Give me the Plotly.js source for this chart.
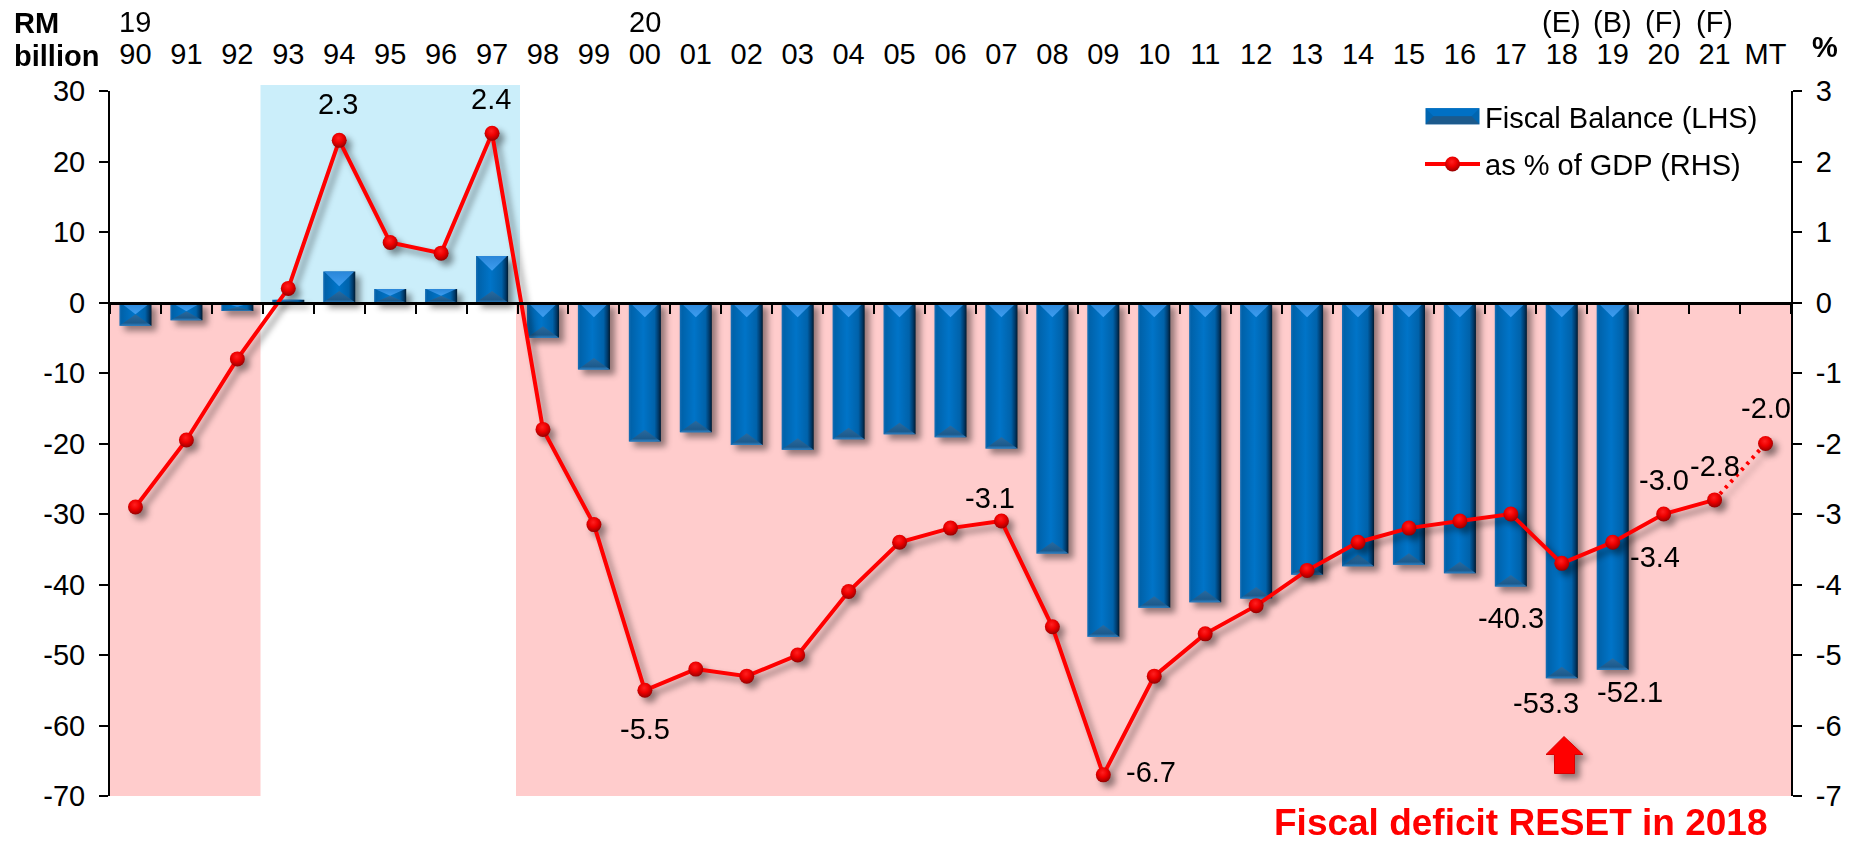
<!DOCTYPE html>
<html>
<head>
<meta charset="utf-8">
<title>Malaysia fiscal balance</title>
<script src="https://cdn.plot.ly/plotly-3.0.1.min.js"></script>
<style>
  html, body { margin: 0; padding: 0; background: #fff; }
  #chart { width: 1851px; height: 844px; }
</style>
</head>
<body>
<div id="chart"></div>
<script>
// Federal government fiscal balance, RM billion and share of GDP
const periods = ['90','91','92','93','94','95','96','97','98','99','00','01','02','03','04','05','06','07','08','09','10','11','12','13','14','15','16','17','18','19','20','21','MT'];
const upperRow = {'90':'19','00':'20','18':'(E)','19':'(B)','20':'(F)','21':'(F)'};

const balancePeriods = periods.slice(0, 30);
const balanceValues = [-3.3,-2.5,-1.2,0.4,4.4,1.9,1.9,6.6,-5.0,-9.5,-19.7,-18.4,-20.2,-20.9,-19.4,-18.7,-19.1,-20.7,-35.6,-47.4,-43.3,-42.5,-42.0,-38.6,-37.4,-37.2,-38.4,-40.3,-53.3,-52.1];

const gdpPeriods = periods.slice(0, 32);
const gdpValues = [-2.9,-1.95,-0.8,0.2,2.3,0.85,0.7,2.4,-1.8,-3.15,-5.5,-5.2,-5.3,-5.0,-4.1,-3.4,-3.2,-3.1,-4.6,-6.7,-5.3,-4.7,-4.3,-3.8,-3.4,-3.2,-3.1,-3.0,-3.7,-3.4,-3.0,-2.8];
const targetPeriods = ['21','MT'];
const targetValues = [-2.8,-2.0];

const leftTicks = [30,20,10,0,-10,-20,-30,-40,-50,-60,-70];
const leftTickText = ['30','20','10','0','-10','-20','-30','-40','-50','-60','-70'];
const rightTicks = [3,2,1,0,-1,-2,-3,-4,-5,-6,-7];
const rightTickText = ['3','2','1','0','-1','-2','-3','-4','-5','-6','-7'];

// Labels placed beside their marks: [period, text, dx, dy]
const gdpLabels = [['94','2.3',-1,-36],['97','2.4',-1,-34],['00','-5.5',0,39],['07','-3.1',-11,-23],['09','-6.7',48,-3],['19','-3.4',42,15],['20','-3.0',0,-34],['21','-2.8',0,-34],['MT','-2.0',0,-36]];
const balanceLabels = [['17','-40.3',0,31],['18','-53.3',-16,25],['19','-52.1',17,22]];

const FONT = 'Liberation Sans, Arial, sans-serif';
const SIZE = 29;
const PLOT = {left: 110, right: 1791, top: 91, bottom: 796.5, width: 1851, height: 844};
const pxX = x => (x - PLOT.left) / (PLOT.right - PLOT.left);
const pxY = y => (PLOT.bottom - y) / (PLOT.bottom - PLOT.top);
const gdpValue = p => p === 'MT' ? targetValues[1] : gdpValues[gdpPeriods.indexOf(p)];
const balanceValue = p => balanceValues[balancePeriods.indexOf(p)];

const textNote = (extra) => Object.assign({showarrow: false, font: {family: FONT, size: SIZE, color: '#000'}}, extra);

const annotations = [
  textNote({xref:'paper', yref:'paper', x:pxX(12), y:pxY(23), xanchor:'left', yanchor:'middle', text:'<b>RM</b>'}),
  textNote({xref:'paper', yref:'paper', x:pxX(12), y:pxY(56), xanchor:'left', yanchor:'middle', text:'<b>billion</b>'}),
  textNote({xref:'paper', yref:'paper', x:pxX(1825), y:pxY(47), xanchor:'center', yanchor:'middle', text:'<b>%</b>'}),
  textNote({xref:'paper', yref:'paper', x:pxX(1770), y:pxY(823), xanchor:'right', yanchor:'middle', text:'<b>Fiscal deficit RESET in 2018</b>', font:{family:FONT, size:37, color:'#ff0000'}})
];
Object.keys(upperRow).forEach(p => annotations.push(textNote({
  xref:'x', yref:'paper', x:periods.indexOf(p), y:pxY(22), xanchor:'center', yanchor:'middle', text:upperRow[p]
})));
gdpLabels.forEach(([p, text, dx, dy]) => annotations.push(textNote({
  xref:'x', yref:'y2', x:periods.indexOf(p), y:gdpValue(p), xanchor:'center', yanchor:'middle', xshift:dx, yshift:-dy, text
})));
balanceLabels.forEach(([p, text, dx, dy]) => annotations.push(textNote({
  xref:'x', yref:'y', x:periods.indexOf(p), y:balanceValue(p), xanchor:'center', yanchor:'middle', xshift:dx, yshift:-dy, text
})));

// Background bands: deficit years in pink, surplus years in pale blue above zero
const band = (x0, x1, y0, y1, color) => ({type:'rect', layer:'below', xref:'paper', yref:'paper',
  x0:pxX(x0), x1:pxX(x1), y0:pxY(y0), y1:pxY(y1), fillcolor:color, line:{width:0}});
const arrowPath = [[1564,737],[1583,755],[1574.5,755],[1574.5,774],[1554.5,774],[1554.5,755],[1546,755]]
  .map((pt, i) => (i ? 'L' : 'M') + pxX(pt[0]) + ',' + pxY(pt[1])).join(' ') + ' Z';
const shapes = [
  band(110, 260.5, 302.6, 796.5, '#ffcccc'),
  band(516, 1791, 302.6, 796.5, '#ffcccc'),
  band(260.5, 520, 85, 302.6, '#cbeefa'),
  {type:'path', layer:'above', xref:'paper', yref:'paper', path:arrowPath, fillcolor:'#ff0000', line:{color:'#d80000', width:1}}
];

const lineStyle = {color:'#ff0000', width:4};
const markerStyle = {size:15, color:'#e00000', line:{width:0}};
const traces = [
  {type:'bar', name:'Fiscal Balance (LHS)', x:balancePeriods, y:balanceValues, xaxis:'x', yaxis:'y',
   width:0.63, marker:{color:'#0070c0', line:{width:0}}, legendgroup:'balance', cliponaxis:false},
  {type:'scatter', mode:'lines', name:'2021 to medium term', x:targetPeriods, y:targetValues, xaxis:'x', yaxis:'y2',
   line:{color:'#ff0000', width:4, dash:'3px,5px'}, showlegend:false, cliponaxis:false},
  {type:'scatter', mode:'markers', name:'Medium term', x:targetPeriods.slice(1), y:targetValues.slice(1), xaxis:'x', yaxis:'y2',
   marker:markerStyle, showlegend:false, cliponaxis:false},
  {type:'scatter', mode:'lines+markers', name:'as % of GDP (RHS)', x:gdpPeriods, y:gdpValues, xaxis:'x', yaxis:'y2',
   line:lineStyle, marker:markerStyle, legendgroup:'gdp', cliponaxis:false},
  // Invisible companion that keeps the top axis active
  {type:'scatter', mode:'markers', x:periods, y:periods.map(() => 0), xaxis:'x2', yaxis:'y', marker:{opacity:0}, showlegend:false, hoverinfo:'skip'}
];

const tickFont = {family:FONT, size:SIZE, color:'#000'};
const layout = {
  width: PLOT.width, height: PLOT.height,
  margin: {l:PLOT.left, r:PLOT.width-PLOT.right, t:PLOT.top, b:PLOT.height-PLOT.bottom, pad:0},
  paper_bgcolor:'#ffffff', plot_bgcolor:'rgba(0,0,0,0)',
  font:{family:FONT, size:SIZE, color:'#000'},
  bargap:0.37, barmode:'overlay', hovermode:false,
  showlegend:true,
  legend:{x:pxX(1420), y:pxY(91), xanchor:'left', yanchor:'top', bgcolor:'rgba(0,0,0,0)',
    itemwidth:55, tracegroupgap:7, traceorder:'grouped', font:{family:FONT, size:SIZE}, itemclick:false, itemdoubleclick:false},
  // Baseline at zero carries the boundary ticks
  xaxis:{type:'category', categoryorder:'array', categoryarray:periods, range:[-0.5,32.5],
    anchor:'free', position:0.7, side:'bottom', showticklabels:false, showgrid:false, zeroline:false,
    showline:true, linecolor:'#000', linewidth:3, ticks:'outside', tickson:'boundaries', ticklen:9, tickwidth:2, tickcolor:'#000'},
  // Period labels run along the top of the chart
  xaxis2:{type:'category', categoryorder:'array', categoryarray:periods, range:[-0.5,32.5], overlaying:'x', anchor:'y', side:'top',
    tickmode:'array', tickvals:periods, ticktext:periods, ticks:'', showgrid:false, zeroline:false, showline:false,
    ticklabelstandoff:20, tickfont:tickFont, tickangle:0},
  yaxis:{range:[-70,30], tickmode:'array', tickvals:leftTicks, ticktext:leftTickText, side:'left', showgrid:false, zeroline:false, showline:true, linecolor:'#000', linewidth:2,
    ticks:'outside', ticklen:9, tickwidth:2, tickcolor:'#000', ticklabelstandoff:8, tickfont:tickFont},
  yaxis2:{range:[-7,3], tickmode:'array', tickvals:rightTicks, ticktext:rightTickText, side:'right', overlaying:'y', anchor:'x', showgrid:false, zeroline:false, showline:true, linecolor:'#000', linewidth:2,
    ticks:'outside', ticklen:9, tickwidth:2, tickcolor:'#000', ticklabelstandoff:8, tickfont:tickFont},
  shapes, annotations
};

const NS = 'http://www.w3.org/2000/svg';
function el(name, attrs, parent) {
  const n = document.createElementNS(NS, name);
  Object.keys(attrs).forEach(k => n.setAttribute(k, attrs[k]));
  if (parent) parent.appendChild(n);
  return n;
}
function linear(defs, id, x2, y2, stops) {
  const g = el('linearGradient', {id, x1:0, y1:0, x2, y2}, defs);
  stops.forEach(([o, c]) => el('stop', {offset:o, 'stop-color':c}, g));
}

// Gives the bars a bevelled look and the markers a glossy one
function addFinish(gd) {
  const svg = gd.querySelector('.main-svg');
  const defs = el('defs', {}, svg);
  linear(defs, 'barBody', 1, 0, [[0,'#1a6fb5'],[0.07,'#0062aa'],[0.45,'#0074c8'],[0.8,'#0062aa'],[0.92,'#003a6a'],[1,'#001a30']]);
  linear(defs, 'barTop', 0, 1, [[0,'#2a86d8'],[1,'#3d9df0']]);
  linear(defs, 'barFoot', 0, 1, [[0,'#2a6a9e'],[0.75,'#1c5a8c'],[1,'#2c80c4']]);
  const ball = el('radialGradient', {id:'ball', cx:'0.45', cy:'0.35', r:'0.7'}, defs);
  [[0,'#ff2020'],[0.45,'#ee0000'],[0.8,'#b00000'],[1,'#800000']].forEach(([o, c]) => el('stop', {offset:o, 'stop-color':c}, ball));

  gd.querySelectorAll('.barlayer .point path').forEach(path => {
    const b = path.getBBox();
    if (b.width < 1 || b.height < 0.5) return;
    const host = path.parentNode;
    const xc = b.x + b.width / 2;
    const depth = Math.min(b.width * 0.46, b.height / 2);
    const foot = Math.min(b.width * 0.36, b.height / 2);
    path.style.fill = 'url(#barBody)';
    el('polygon', {points:`${b.x+1},${b.y} ${b.x+b.width-1},${b.y} ${xc},${b.y+depth}`, fill:'url(#barTop)'}, host);
    el('polygon', {points:`${b.x},${b.y+b.height} ${b.x+b.width},${b.y+b.height} ${xc},${b.y+b.height-foot}`, fill:'url(#barFoot)'}, host);
  });

  gd.querySelectorAll('.scatterlayer .points path, .legend .scatterpts').forEach(p => { p.style.fill = 'url(#ball)'; });

  // Widen the bar swatch so it reads like the bars themselves
  const firstEntry = gd.querySelector('.legend .traces');
  const swatch = firstEntry && firstEntry.querySelector('.legendpoints path');
  if (swatch) {
    swatch.setAttribute('d', 'M-27,-8H27V8H-27Z');
    swatch.style.stroke = 'none';
    swatch.style.fill = '#0065b0';
    const tf = swatch.getAttribute('transform') || '';
    const host = swatch.parentNode;
    el('polygon', {points:'-27,-8 27,-8 19,0 -19,0', fill:'#0070c4', transform:tf}, host);
    el('polygon', {points:'-27,8 27,8 19,0 -19,0', fill:'#1c5a8c', transform:tf}, host);
  }

  const shadow = 'drop-shadow(5px 5px 3px rgba(0,0,0,0.42))';
  gd.querySelectorAll('.barlayer .trace, .scatterlayer .trace').forEach(t => { t.style.filter = shadow; });
  const aboveShapes = gd.querySelectorAll('.layer-above .shapelayer path');
  if (aboveShapes.length) aboveShapes[aboveShapes.length - 1].style.filter = shadow;
}

const chart = document.getElementById('chart');
Plotly.newPlot(chart, traces, layout, {displayModeBar:false}).then(addFinish);
</script>
</body>
</html>
